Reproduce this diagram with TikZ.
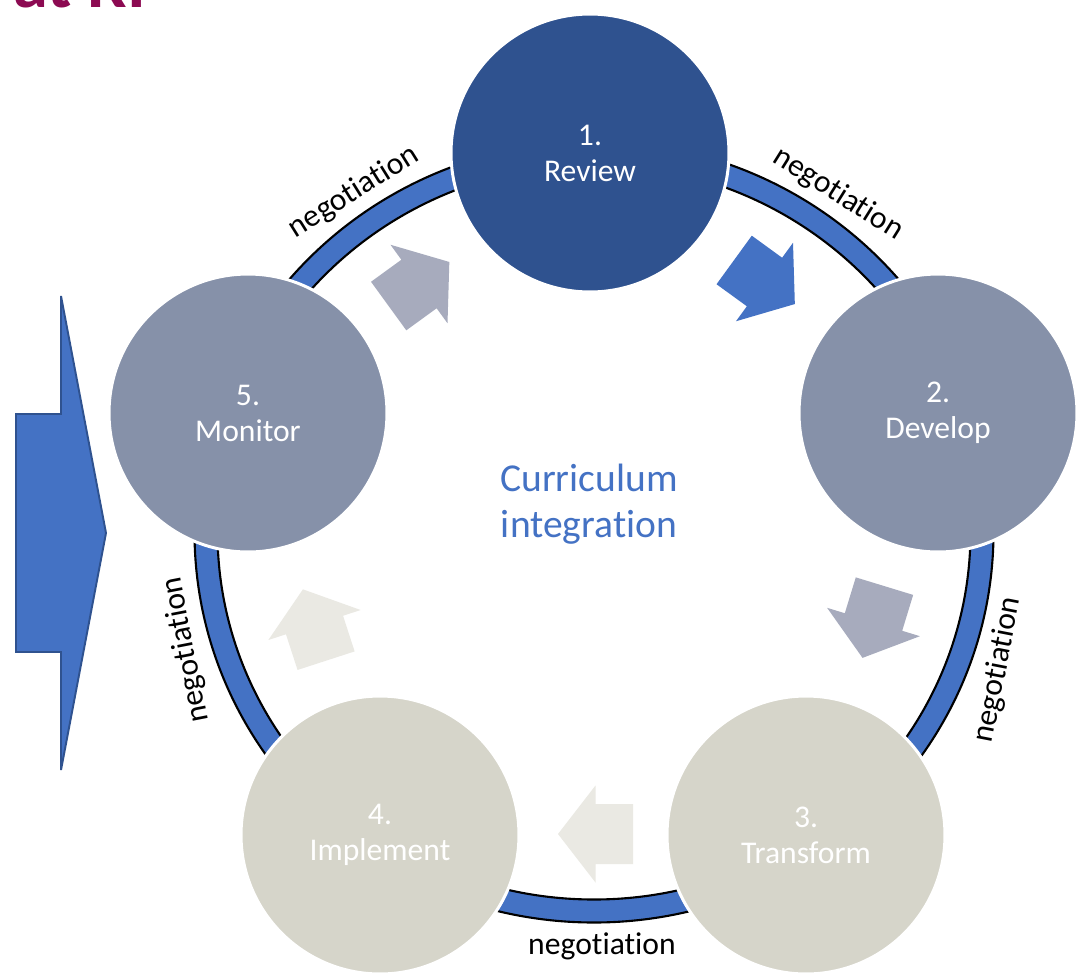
\documentclass[tikz,border=0pt]{standalone}
\usepackage{fontspec}
\setmainfont{Carlito}[RawFeature={-liga;-clig;-dlig}]
\definecolor{ringblue}{HTML}{4472C4}
\definecolor{darkblue}{HTML}{2F528F}
\definecolor{stagegray}{HTML}{8691A9}
\definecolor{stagebeige}{HTML}{D6D5CA}
\definecolor{arrowgray}{HTML}{A7ABBD}
\definecolor{arrowlight}{HTML}{EAE9E3}
\definecolor{titlemaroon}{HTML}{8C0A52}
\newcommand\cycarrow[4]{%
  \begin{scope}[shift={(#1,#2)},rotate=#3]
    \fill[#4] (-37.5,-30) -- (0,-30) -- (0,-48.5) -- (37.5,0) -- (0,48.5) -- (0,30) -- (-37.5,30) -- cycle;
  \end{scope}}
\begin{document}
\begin{tikzpicture}[x=0.02cm,y=-0.02cm,
  stage/.style={circle, minimum size=5.56cm, draw=white, line width=1.7pt, text=white,
    align=center, font=\fontsize{18}{20.5}\selectfont, inner sep=0pt},
  negot/.style={font=\fontsize{18}{21}\selectfont, inner sep=0pt, text=black},
  ringline/.style={draw=black, line width=1.2pt}]
\useasboundingbox (0,0) rectangle (1079,978);
\clip (0,0) rectangle (1079,978);
\fill[white] (0,0) rectangle (1079,978);

% title fragment
\node[anchor=base west, inner sep=0pt, text=titlemaroon,
  font=\fontsize{40}{48}\selectfont\bfseries] (title) at (13,7) {at RI};

% ring
\filldraw[ringblue, even odd rule]
  (594,532) ellipse [x radius=399.5, y radius=390.5]
  (594,532) ellipse [x radius=376.5, y radius=367.5];
\draw[ringline] (594,532) ellipse [x radius=399.5, y radius=390.5];
\draw[ringline] (594,532) ellipse [x radius=376.5, y radius=367.5];

% left input arrow
\filldraw[fill=ringblue, draw=darkblue, line width=1.1pt, line join=miter]
  (61,296) -- (61,414) -- (16,414) -- (16,652) -- (61,652) -- (61,770) -- (106,533) -- cycle;

% stages
\node[stage, fill=darkblue]  (c1) at (590,153) {1.\\Review};
\node[stage, fill=stagegray] (c2) at (938,413) {2.\\Develop};
\node[stage, fill=stagebeige] (c3) at (806,835) {3.\\Transform};
\node[stage, fill=stagebeige] (c4) at (380,835) {4.\\Implement};
\node[stage, fill=stagegray] (c5) at (248,413) {5.\\Monitor};

% cycle arrows
\cycarrow{764.5}{282}{-36}{ringblue}
\cycarrow{873.5}{622}{-107}{arrowgray}
\cycarrow{595.5}{834}{180}{arrowlight}
\cycarrow{314.5}{625}{108}{arrowlight}
\cycarrow{419}{284}{36}{arrowgray}

% centre text
\node[align=center, text=ringblue, font=\fontsize{22.5}{26}\selectfont, inner sep=0pt]
  (centre) at (589,504) {Curriculum\\integration};

% negotiation labels
\node[negot, rotate=32]  (n51) at (354,192) {negotiation};
\node[negot, rotate=-32] (n12) at (838,194) {negotiation};
\node[negot, rotate=79]  (n23) at (998,670) {negotiation};
\node[negot]             (n34) at (602,946) {negotiation};
\node[negot, rotate=101] (n45) at (186,650) {negotiation};
\end{tikzpicture}
\end{document}
